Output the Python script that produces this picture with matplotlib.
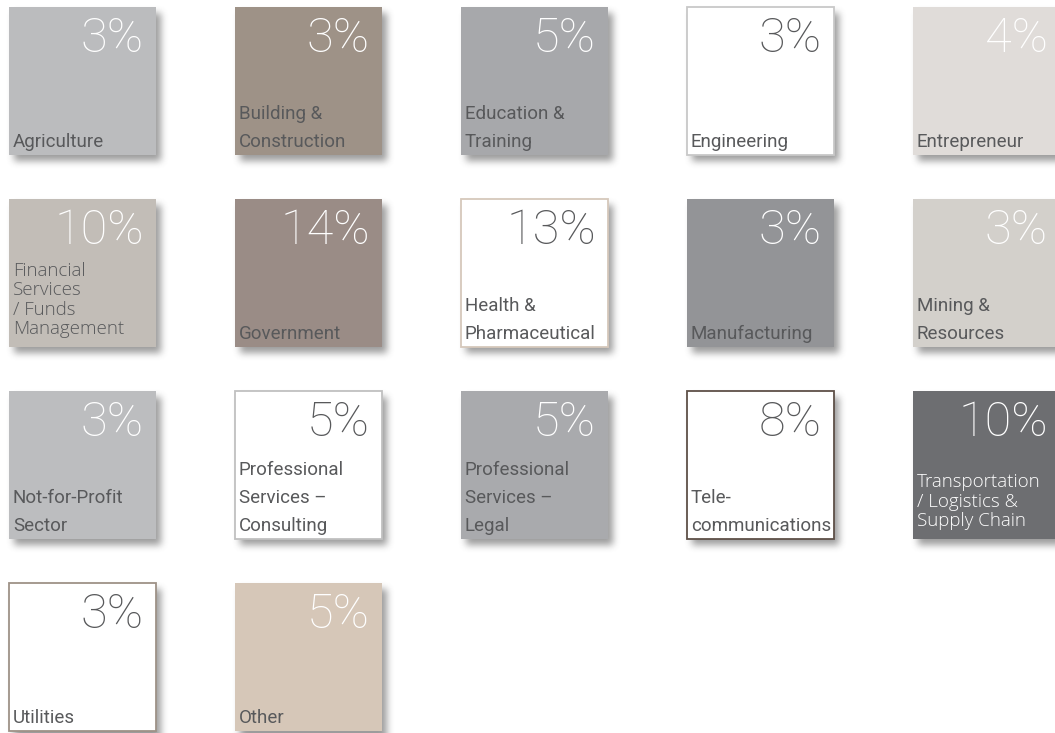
import numpy as np
import matplotlib
matplotlib.use("Agg")
import matplotlib.pyplot as plt
from matplotlib.patches import Rectangle

# industry share data
sectors = ["Agriculture", "Building &\nConstruction", "Education &\nTraining", "Engineering",
           "Entrepreneur", "Financial\nServices\n/ Funds\nManagement", "Government",
           "Health &\nPharmaceutical", "Manufacturing", "Mining &\nResources",
           "Not-for-Profit\nSector", "Professional\nServices \u2013\nConsulting",
           "Professional\nServices \u2013\nLegal", "Tele-\ncommunications",
           "Transportation\n/ Logistics &\nSupply Chain", "Utilities", "Other"]
shares = [3, 3, 5, 3, 4, 10, 14, 13, 3, 3, 3, 5, 5, 8, 10, 3, 5]

# tile styling
fills = ["#bbbcbe", "#9e9287", "#a7a8ab", "white", "#e0dcd9",
         "#c2bdb7", "#9a8c86", "white", "#939497", "#d3d0cb",
         "#bcbdbf", "white", "#a9aaad", "white", "#6d6e71",
         "white", "#d6c7b8"]
borders = [None, None, None, "#c8c8c8", None,
           None, None, "#d6c8bb", None, None,
           None, "#c0c0c0", None, "#5e5048", None,
           "#9e9287", None]
dark = "#58595b"
wide_font = {"Financial\nServices\n/ Funds\nManagement", "Transportation\n/ Logistics &\nSupply Chain"}

W, H = 1055, 733
x0, y0 = 9, 7
dx, dy = 226, 192
tw, th = 147, 148

fig = plt.figure(figsize=(W / 100, H / 100), dpi=100)
ax = fig.add_axes([0, 0, 1, 1])
ax.set_xlim(0, W)
ax.set_ylim(H, 0)
ax.axis("off")

# soft drop shadow, blurred with box filters
mask = np.zeros((H, W))
for i in range(len(sectors)):
    x = x0 + (i % 5) * dx
    y = y0 + (i // 5) * dy
    mask[y + 6:min(y + 6 + th, H), x + 5:min(x + 5 + tw, W)] = 1.0

def box_blur(a, r, axis):
    pad = [(0, 0), (0, 0)]
    pad[axis] = (r + 1, r)
    c = np.cumsum(np.pad(a, pad, mode="edge"), axis=axis)
    n = a.shape[axis]
    if axis == 0:
        return (c[2 * r + 1:2 * r + 1 + n] - c[:n]) / (2 * r + 1)
    return (c[:, 2 * r + 1:2 * r + 1 + n] - c[:, :n]) / (2 * r + 1)

for _ in range(3):
    mask = box_blur(mask, 3, 0)
    mask = box_blur(mask, 3, 1)

shadow = np.zeros((H, W, 4))
shadow[..., :3] = 0.3
shadow[..., 3] = mask * 0.55
ax.imshow(shadow, extent=(0, W, H, 0), aspect="auto", zorder=0, interpolation="bilinear")

for i, (name, val) in enumerate(zip(sectors, shares)):
    x = x0 + (i % 5) * dx
    y = y0 + (i // 5) * dy
    ec = borders[i] if borders[i] else "none"
    ax.add_patch(Rectangle((x, y), tw, th, facecolor=fills[i], edgecolor=ec,
                           linewidth=1.3, zorder=2))
    white_tile = fills[i] == "white"
    pct_color = dark if white_tile else "white"
    lab_color = "white" if fills[i] == "#6d6e71" else dark
    ax.text(x + tw - 12, y + 8, "%d%%" % val, ha="right", va="top", fontsize=35,
            family="Roboto", fontweight="light", color=pct_color, zorder=3)
    if name in wide_font:
        ax.text(x + 4, y + th - 9, name, ha="left", va="bottom", fontsize=13.5,
                family="Open Sans", fontweight="light", color=lab_color,
                linespacing=1.1, zorder=3)
    else:
        ax.text(x + 4, y + th - 4, name, ha="left", va="bottom", fontsize=13.5,
                family="Roboto", color=lab_color, linespacing=1.7, zorder=3)

fig.savefig("out.png", dpi=100, facecolor="white")
